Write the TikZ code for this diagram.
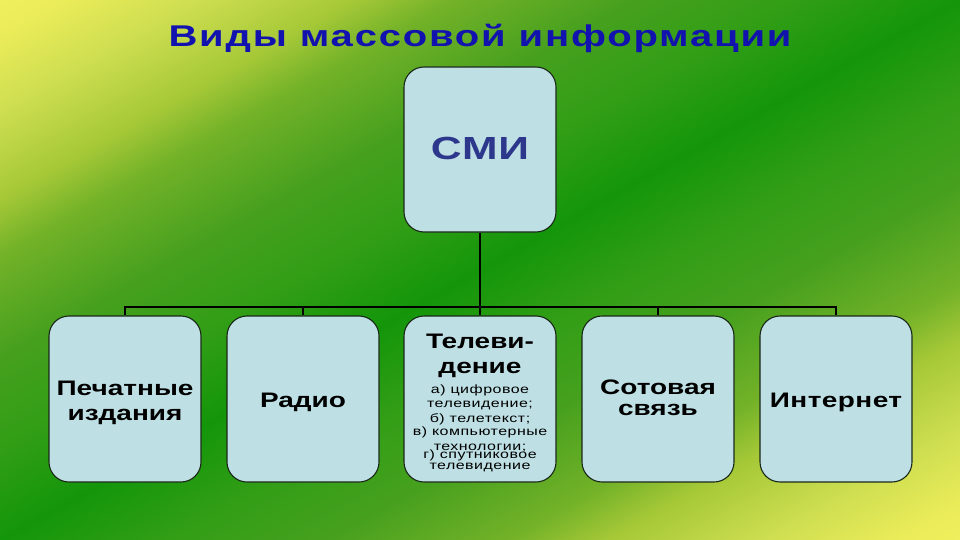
\documentclass[tikz,border=0pt]{standalone}
\usepackage{fontspec}
\setmainfont{Liberation Sans}[FakeStretch=1.333]
\definecolor{bgY}{RGB}{247,247,98}
\definecolor{bgYa}{RGB}{236,236,90}
\definecolor{bgYb}{RGB}{205,222,80}
\definecolor{bgYG}{RGB}{165,200,55}
\definecolor{bgGc}{RGB}{115,178,40}
\definecolor{bgGb}{RGB}{70,160,30}
\definecolor{bgGa}{RGB}{50,158,22}
\definecolor{bgG}{RGB}{20,150,10}
\definecolor{boxfill}{RGB}{190,224,228}
\definecolor{boxline}{RGB}{25,40,25}
\definecolor{titleblue}{RGB}{18,18,175}
\definecolor{smiblue}{RGB}{45,55,140}
\pgfdeclareverticalshading{bgshade}{100bp}{color(0bp)=(bgY); color(10bp)=(bgY); color(18bp)=(bgYa); color(23bp)=(bgYb); color(28.5bp)=(bgYG); color(32bp)=(bgGc); color(38.5bp)=(bgGb); color(44bp)=(bgGa); color(50bp)=(bgG); color(56bp)=(bgGa); color(61.5bp)=(bgGb); color(68bp)=(bgGc); color(71.5bp)=(bgYG); color(77bp)=(bgYb); color(82bp)=(bgYa); color(90bp)=(bgY); color(100bp)=(bgY)}
\tikzset{
  box/.style={draw=boxline, line width=1.1pt, fill=boxfill, rounded corners=20pt, minimum width=152pt, minimum height=166pt, inner sep=0pt},
  conn/.style={draw=black, line width=2pt},
  big/.style={font=\fontsize{21}{25}\selectfont\bfseries, text=black, anchor=base, align=center, inner sep=0pt},
  small/.style={font=\fontsize{12}{14}\selectfont\addfontfeature{LetterSpace=4}, text=black, anchor=base, inner sep=0pt},
}
\begin{document}
\begin{tikzpicture}[x=1pt,y=-1pt]
\useasboundingbox (0,0) rectangle (960,540);
\shade[shading=bgshade, shading angle=29.4] (0,0) rectangle (960,540);
% title
\node[font=\fontsize{30}{36}\selectfont\bfseries\addfontfeature{LetterSpace=6}, text=titleblue, anchor=base, inner sep=0pt] (title) at (480,47) {Виды массовой информации};
% boxes
\node[box, minimum height=165pt] (smi) at (480,149.5) {};
\node[box] (b1) at (125,399) {};
\node[box] (b2) at (303,399) {};
\node[box] (b3) at (480,399) {};
\node[box] (b4) at (658,399) {};
\node[box] (b5) at (836,399) {};
\coordinate (bus) at (480,307);
% connectors
\draw[conn] (smi.south) -- (b3.north);
\draw[conn] (b1.north) -- (b1.north |- bus) -- (b5.north |- bus) -- (b5.north);
\draw[conn] (b2.north) -- (b2.north |- bus);
\draw[conn] (b4.north) -- (b4.north |- bus);
% texts
\node[font=\fontsize{32}{36}\selectfont\bfseries\addfontfeature{LetterSpace=3}, text=smiblue, anchor=base, inner sep=0pt] (smit) at (480,160) {СМИ};
\node[big] (t1) at (125,420) {Печатные\\издания};
\node[big] (t2) at (303,407) {Радио};
\node[big] (t3) at (480,373) {Телеви-\\дение};
\node[big, font=\fontsize{21}{21}\selectfont\bfseries] (t4) at (658,415) {Сотовая\\связь};
\node[big, font=\fontsize{21}{25}\selectfont\bfseries\addfontfeature{LetterSpace=2}] (t5) at (836,407) {Интернет};
\node[small] (s1) at (480,393) {а) цифровое};
\node[small] (s2) at (480,407) {телевидение;};
\node[small] (s3) at (480,422) {б) телетекст;};
\node[small] (s4) at (480,435) {в) компьютерные};
\node[small] (s5) at (480,450) {технологии;};
\node[small] (s6) at (480,458) {г) спутниковое};
\node[small] (s7) at (480,469) {телевидение};
\end{tikzpicture}
\end{document}
